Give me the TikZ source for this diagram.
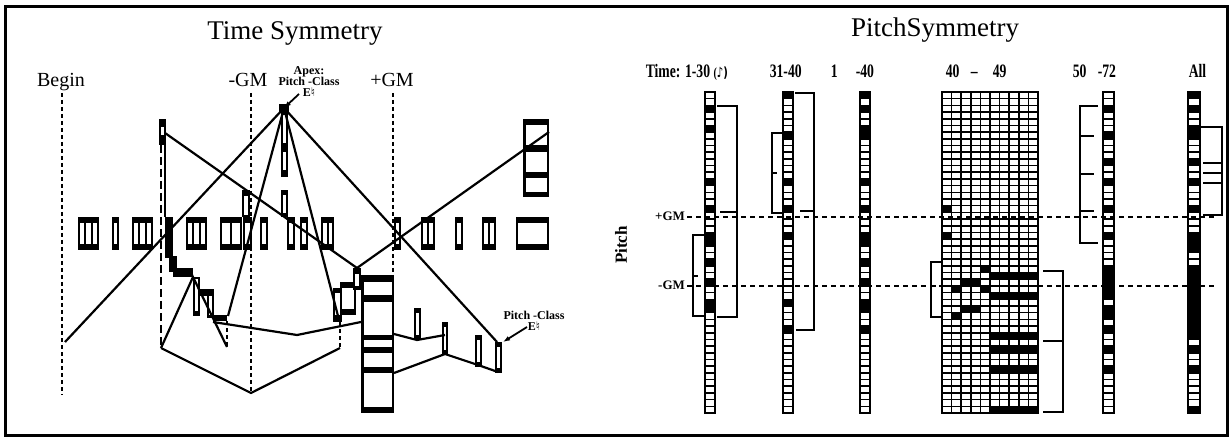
\documentclass[tikz,border=0pt]{standalone}
\usepackage{fontspec}
\setmainfont{Liberation Serif}
\newfontfamily\symfont{DejaVu Sans}
\usetikzlibrary{arrows.meta}

\begin{document}
\begin{tikzpicture}[x=1pt, y=-1pt, line width=2.2pt,
  guide/.style={line width=1.9pt, dash pattern=on 4pt off 3pt},
  heavyguide/.style={line width=2.4pt, dash pattern=on 8pt off 4pt},
  gmline/.style={line width=1.9pt, dash pattern=on 5pt off 4pt},
  cell/.style={line width=1.6pt},
  bracket/.style={line width=1.9pt},
  colhead/.style={inner sep=0pt, anchor=base west, xscale=0.72, font=\fontsize{19}{19}\selectfont\bfseries},
  small/.style={inner sep=0pt, font=\fontsize{12}{11}\selectfont\bfseries, align=center}]

  \useasboundingbox (0,0) rectangle (1231,438);
  \fill[white] (0,0) rectangle (1231,438);
  \draw[line width=3pt] (5,7) rectangle (1227,435);

  % Time Symmetry
  \node[anchor=base, inner sep=0pt, font=\fontsize{27}{27}\selectfont] (ttitle) at (295,40) {Time Symmetry};
  \node[anchor=base, inner sep=0pt, font=\fontsize{20}{20}\selectfont] (tbegin) at (61,87) {Begin};
  \node[anchor=base, inner sep=0pt, font=\fontsize{20}{20}\selectfont] (tminus) at (248,87) {-GM};
  \node[anchor=base, inner sep=0pt, font=\fontsize{20}{20}\selectfont] (tplus) at (392,87) {+GM};

  \draw[guide] (62,93) -- (62,395);
  \draw[guide] (251,93) -- (251,392);
  \draw[guide] (393,93) -- (393,275);
  \draw[heavyguide] (161,145) -- (161,348);
  \draw (165,133) -- (165,217);

  \foreach \xa/\ya/\xb/\yb/\n/\tb/\bb in {
     78/217/99/250/3/6/6, 112/217/119/250/1/6/6, 132/217/153/250/3/6/6,
     186/217/207/250/3/6/6, 220/217/242/250/2/6/6, 243/217/252/250/1/6/6,
     260/217/268/250/1/6/6, 287/217/295/250/1/6/6, 300/217/308/250/1/6/6,
     321/217/334/250/2/6/6, 394/217/401/250/1/6/6, 421/217/435/250/2/6/6,
     455/217/463/250/1/6/6, 482/217/496/250/2/6/6, 516/217/549/250/1/6/6,
     159/119/166/145/1/8/10, 242/190/250/217/1/6/2, 281/113/288/150/1/2/7,
     281/150/288/177/1/2/7, 281/190/288/217/1/5/4,
     193/277/200/316/1/2/5, 207/289/214/318/1/7/3,
     333/288/342/322/1/5/7, 340/282/356/315/1/6/6, 353/268/361/290/1/6/4,
     414/308/421/340/1/5/5, 442/322/448/355/1/5/5, 475/335/482/367/1/5/5,
     495/342/502/373/1/5/5}
  {
    \fill (\xa,\ya) rectangle (\xb,\yb);
    \foreach \k in {1,...,\n}
      \fill[white] ({\xa+2+(\k-1)*(\xb-\xa-2)/\n},{\ya+\tb}) rectangle ({\xa+\k*(\xb-\xa-2)/\n},{\yb-\bb});
  }

  % staircase
  \fill (165,217) rectangle (173,258);
  \fill (169,256) rectangle (177,272);
  \fill (173,268) rectangle (193,277);
  \fill (200,289) rectangle (208,296);
  \fill (213,315) rectangle (227,321);

  \fill (361,275) rectangle (394,413);
  \foreach \ya/\yb in {282/295,302/335,340/347,353/367,373/407}
    \fill[white] (363.5,\ya) rectangle (391.5,\yb);
  \fill (523,119) rectangle (549,197);
  \foreach \ya/\yb in {125/145,152/172,178/192}
    \fill[white] (525.5,\ya) rectangle (546.5,\yb);

  \fill (279,104) rectangle (289,113);
  \coordinate (apex) at (284,108);
  \coordinate (beginend) at (65,342);
  \coordinate (peak) at (165,133);
  \coordinate (joint) at (357,268);
  \coordinate (topbox) at (549,132);
  \coordinate (vleft) at (161,348);
  \coordinate (vbottom) at (251,393);
  \coordinate (vright) at (340,348);
  \coordinate (lastbox) at (497,342);

  \draw (apex) -- (beginend);
  \draw (apex) -- (228,316);
  \draw (apex) -- (338,316);
  \draw (apex) -- (lastbox);
  \draw (peak) -- (joint) -- (topbox);
  \draw (vleft) -- (vbottom) -- (vright);
  \draw (vleft) -- (193,277) -- (227,347);
  \draw (213,322) -- (297,335) -- (361,322);
  \draw (394,334) -- (417,340) -- (445,335);
  \draw (394,373) -- (445,354) -- (478,365) -- (498,372);
  \draw[guide] (340,322) -- (vright);
  \draw[guide] (227,321) -- (227,347);

  \node[small] (apexlbl) at (309,82) {Apex:\\Pitch -Class\\E{\symfont ♮}};
  \draw[-{Latex[length=7pt,width=5pt]}, line width=1.8pt] (299,94) -- (apex);
  \node[small] (pclbl) at (534,321) {Pitch -Class\\E{\symfont ♮}};
  \draw[-{Latex[length=7pt,width=5pt]}, line width=1.8pt] (527,327) -- (503,342);

  % Pitch Symmetry
  \node[anchor=base, inner sep=0pt, font=\fontsize{27}{27}\selectfont] (ptitle) at (935,37) {PitchSymmetry};
  \node[colhead] (htime) at (645,78) {Time: 1-30 {\fontsize{14}{14}\selectfont(\symfont ♪)}};
  \node[colhead] (hb) at (769,78) {31-40};
  \node[colhead] (hc1) at (830,78) {1};
  \node[colhead] (hc2) at (855,78) {-40};
  \node[colhead] (hd1) at (945,78) {40};
  \node[colhead] (hd2) at (970,78) {--};
  \node[colhead] (hd3) at (992,78) {49};
  \node[colhead] (he1) at (1072,78) {50};
  \node[colhead] (he2) at (1097,78) {-72};
  \node[colhead] (hall) at (1188,78) {All};

  \node[rotate=90, inner sep=0pt, font=\fontsize{17}{17}\selectfont\bfseries] (pitchaxis) at (621,245) {Pitch};

  \foreach \c in {2,5,13,17,21,22,25,28,31,32}
    \fill (705,{92+\c*6.6875}) rectangle (715,{92+(\c+1)*6.6875});
  \foreach \c in {0,6,13,17,21,31,35}
    \fill (783,{92+\c*6.6875}) rectangle (793,{92+(\c+1)*6.6875});
  \foreach \c in {0,2,5,6,13,17,21,22,25,28,31,32,35}
    \fill (860,{92+\c*6.6875}) rectangle (870,{92+(\c+1)*6.6875});
  \foreach \c in {2,6,10,13,17,21,26,27,28,29,30,32,33,35,38,41}
    \fill (1103,{92+\c*6.6875}) rectangle (1114,{92+(\c+1)*6.6875});
  \foreach \c in {0,2,5,6,10,13,17,21,22,23,26,27,28,29,30,31,32,33,34,35,36,38,41,47}
    \fill (1188,{92+\c*6.6875}) rectangle (1200,{92+(\c+1)*6.6875});
  \foreach \i/\c in {0/17,0/21,1/29,1/33,2/28,2/32,3/28,3/32,4/26,4/29}
    \fill ({942+\i*9.6},{92+\c*6.6875}) rectangle ({942+(\i+1)*9.6},{92+(\c+1)*6.6875});
  \foreach \i in {5,...,9}
    \foreach \c in {27,30,36,38,41,47}
      \fill ({942+\i*9.6},{92+\c*6.6875}) rectangle ({942+(\i+1)*9.6},{92+(\c+1)*6.6875});

  \foreach \xa/\xb in {705/715,783/793,860/870,1103/1114,1188/1200}
    \foreach \c in {0,...,47}
      \draw[cell] (\xa,{92+\c*6.6875}) rectangle (\xb,{92+(\c+1)*6.6875});
  \foreach \i in {0,...,9}
    \foreach \c in {0,...,47}
      \draw[cell] ({942+\i*9.6},{92+\c*6.6875}) rectangle ({942+(\i+1)*9.6},{92+(\c+1)*6.6875});

  \draw[bracket] (717,106) -- (737,106) -- (737,317) -- (717,317);
  \draw[bracket] (720,212) -- (737,212);
  \draw[bracket] (705,235) -- (693,235) -- (693,316) -- (705,316);
  \draw[bracket] (693,276) -- (698,276);
  \draw[bracket] (795,93) -- (814,93) -- (814,330) -- (796,330);
  \draw[bracket] (800,211) -- (814,211);
  \draw[bracket] (783,133) -- (772,133) -- (772,213) -- (783,213);
  \draw[bracket] (772,173) -- (777,173);
  \draw[bracket] (942,262) -- (931,262) -- (931,317) -- (942,317);
  \draw[bracket] (931,286) -- (936,286);
  \draw[bracket] (1043,271) -- (1063,271) -- (1063,412) -- (1043,412);
  \draw[bracket] (1043,341) -- (1063,341);
  \draw[bracket] (1098,106) -- (1080,106) -- (1080,243) -- (1098,243);
  \foreach \y in {136,174,211}
    \draw[bracket] (1080,\y) -- (1094,\y);
  \draw[bracket] (1201,127) -- (1222,127) -- (1222,215) -- (1203,215);
  \foreach \y in {163,173,183}
    \draw[bracket] (1203,\y) -- (1222,\y);

  \node[anchor=east, inner sep=1pt, font=\fontsize{13}{13}\selectfont\bfseries] (pgmplus) at (687,216) {+GM};
  \node[anchor=east, inner sep=1pt, font=\fontsize{13}{13}\selectfont\bfseries] (pgmminus) at (687,285) {-GM};
  \draw[gmline] (pgmplus.east) ++(0,1) -- (1217,217);
  \draw[gmline] (pgmminus.east) ++(0,1) -- (1217,286);

\end{tikzpicture}
\end{document}
